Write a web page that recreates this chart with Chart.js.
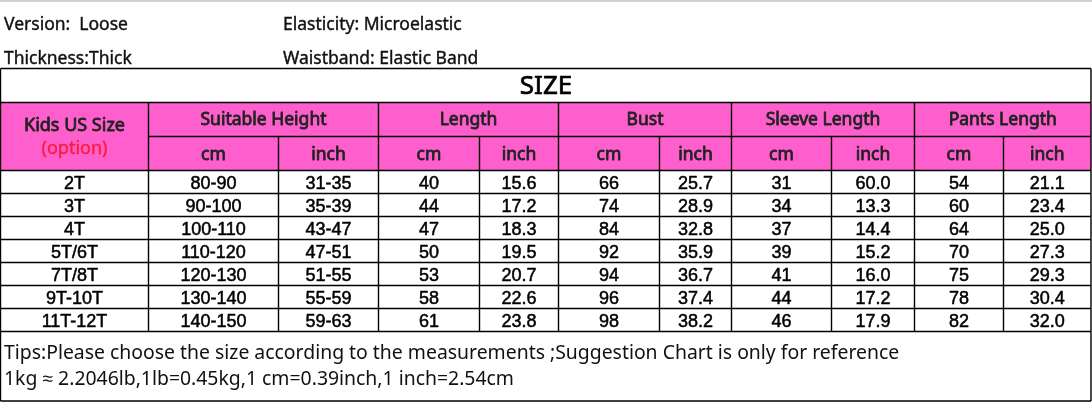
<!DOCTYPE html>
<html>
<head>
<meta charset="utf-8">
<script src="https://cdn.jsdelivr.net/npm/chart.js@4.4.1/dist/chart.umd.min.js"></script>
<style>
  html, body { margin: 0; padding: 0; background: #fff; }
  #sizeChart { display: block; }
</style>
</head>
<body>
<canvas id="sizeChart" width="1092" height="402"></canvas>
<script>
// table content
var sizes = ["2T", "3T", "4T", "5T/6T", "7T/8T", "9T-10T", "11T-12T"];
var heightCm = ["80-90", "90-100", "100-110", "110-120", "120-130", "130-140", "140-150"];
var heightInch = ["31-35", "35-39", "43-47", "47-51", "51-55", "55-59", "59-63"];
var lengthCm = [40, 44, 47, 50, 53, 58, 61];
var lengthInch = [15.6, 17.2, 18.3, 19.5, 20.7, 22.6, 23.8];
var bustCm = [66, 74, 84, 92, 94, 96, 98];
var bustInch = [25.7, 28.9, 32.8, 35.9, 36.7, 37.4, 38.2];
var sleeveCm = [31, 34, 37, 39, 41, 44, 46];
var sleeveInch = [60.0, 13.3, 14.4, 15.2, 16.0, 17.2, 17.9];
var pantsCm = [54, 60, 64, 70, 75, 78, 82];
var pantsInch = [21.1, 23.4, 25.0, 27.3, 29.3, 30.4, 32.0];

var groups = ["Suitable Height", "Length", "Bust", "Sleeve Length", "Pants Length"];
var units = ["cm", "inch"];
var infoLines = [
    ["Version:  Loose", "Elasticity: Microelastic"],
    ["Thickness:Thick", "Waistband: Elastic Band"]
];
var tips = [
    "Tips:Please choose the size according to the measurements ;Suggestion Chart is only for reference",
    "1kg \u2248 2.2046lb,1lb=0.45kg,1 cm=0.39inch,1 inch=2.54cm"
];

// layout (scale units)
var colEdges = [0.5, 148.5, 278.5, 378.5, 479.5, 558.5, 659.5, 731.5, 831.5, 914.5, 1003.5, 1091];
var titleTop = 68.5, headTop = 102.5, headMid = 136.5, headBottom = 170.5, rowH = 23, tableBottom = 401;
var pink = "#ff5fcd";

// fill text and give it a thin outline of the same colour (heavier look)
function heavyText(ctx, txt, x, y, w) {
    ctx.fillText(txt, x, y);
    if (w) {
        ctx.lineWidth = w;
        ctx.strokeStyle = ctx.fillStyle;
        ctx.strokeText(txt, x, y);
    }
}

var tablePlugin = {
    id: 'sizeTable',
    afterDraw: function(chart) {
        var ctx = chart.ctx;
        var x = chart.scales.x, y = chart.scales.y;
        var px = function(v) { return x.getPixelForValue(v); };
        var py = function(v) { return y.getPixelForValue(v); };
        var L = px(colEdges[0]), R = px(colEdges[colEdges.length - 1]);
        var rows = [sizes, heightCm, heightInch, lengthCm, lengthInch, bustCm, bustInch,
                    sleeveCm, sleeveInch, pantsCm, pantsInch];
        var inchCols = [4, 6, 8, 10];

        ctx.save();
        ctx.lineJoin = "round";
        // grey frame line at the top
        ctx.strokeStyle = "#d0d0d0";
        ctx.lineWidth = 2;
        ctx.beginPath(); ctx.moveTo(0, py(1)); ctx.lineTo(chart.width, py(1)); ctx.stroke();

        // info text
        ctx.fillStyle = "#111";
        ctx.font = "17.5px 'Noto Sans', sans-serif";
        ctx.textBaseline = "middle";
        ctx.textAlign = "left";
        infoLines.forEach(function(line, i) {
            var cy = py(i === 0 ? 25 : 59);
            heavyText(ctx, line[0], px(4), cy, 0.4);
            heavyText(ctx, line[1], px(283), cy, 0.4);
        });

        // pink header
        ctx.fillStyle = pink;
        ctx.fillRect(L, py(headTop), R - L, py(headBottom) - py(headTop));

        // grid lines
        ctx.strokeStyle = "#000";
        ctx.lineWidth = 1.4;
        ctx.beginPath();
        [titleTop, headTop, headBottom].forEach(function(v) {
            ctx.moveTo(L, py(v)); ctx.lineTo(R, py(v));
        });
        ctx.moveTo(px(colEdges[1]), py(headMid)); ctx.lineTo(R, py(headMid));
        for (var r = 1; r <= sizes.length; r++) {
            ctx.moveTo(L, py(headBottom + r * rowH)); ctx.lineTo(R, py(headBottom + r * rowH));
        }
        ctx.moveTo(L, py(tableBottom)); ctx.lineTo(R, py(tableBottom));
        ctx.moveTo(L, py(titleTop)); ctx.lineTo(L, py(tableBottom));
        ctx.moveTo(R, py(titleTop)); ctx.lineTo(R, py(tableBottom));
        var dataBottom = headBottom + sizes.length * rowH;
        for (var c = 1; c < colEdges.length - 1; c++) {
            var top = (c % 2 === 1) ? headTop : headMid;
            ctx.moveTo(px(colEdges[c]), py(top)); ctx.lineTo(px(colEdges[c]), py(dataBottom));
        }
        ctx.stroke();

        // title
        ctx.fillStyle = "#000";
        ctx.textAlign = "center";
        ctx.font = "26px 'Noto Sans', sans-serif";
        heavyText(ctx, "SIZE", px(546), py((titleTop + headTop) / 2 + 1), 0.7);

        // header text
        ctx.font = "18px 'Noto Sans', sans-serif";
        ctx.fillStyle = "#222";
        var c0 = (px(colEdges[0]) + px(colEdges[1])) / 2;
        heavyText(ctx, "Kids US Size", c0, py(126), 0.8);
        ctx.fillStyle = "#ff1a3c";
        heavyText(ctx, "(option)", c0, py(149), 0.4);
        ctx.font = "17.5px 'Noto Sans', sans-serif";
        ctx.fillStyle = "#222";
        groups.forEach(function(g, i) {
            var a = px(colEdges[1 + i * 2]), b = px(colEdges[3 + i * 2]);
            heavyText(ctx, g, (a + b) / 2, py((headTop + headMid) / 2 + 1), 0.8);
            units.forEach(function(u, j) {
                var ua = px(colEdges[1 + i * 2 + j]), ub = px(colEdges[2 + i * 2 + j]);
                heavyText(ctx, u, (ua + ub) / 2, py((headMid + headBottom) / 2 + 2), 0.8);
            });
        });

        // body cells
        ctx.fillStyle = "#000";
        ctx.font = "18px 'Liberation Sans', Arial, sans-serif";
        rows.forEach(function(col, ci) {
            var cx = (px(colEdges[ci]) + px(colEdges[ci + 1])) / 2;
            col.forEach(function(v, ri) {
                var txt = inchCols.indexOf(ci) >= 0 ? Number(v).toFixed(1) : String(v);
                heavyText(ctx, txt, cx, py(headBottom + ri * rowH + rowH / 2 + 2), 0.5);
            });
        });

        // tips
        ctx.textAlign = "left";
        ctx.fillStyle = "#111";
        ctx.font = "19.4px 'Noto Sans', sans-serif";
        ctx.fillText(tips[0], px(4), py(353));
        ctx.fillText(tips[1], px(4), py(379));
        ctx.restore();
    }
};

var ctx = document.getElementById("sizeChart");
var sizeChart = new Chart(ctx, {
    type: 'scatter',
    data: { datasets: [{ data: [] }] },
    options: {
        responsive: false,
        animation: false,
        devicePixelRatio: 1,
        layout: { padding: 0 },
        plugins: { legend: { display: false }, tooltip: { enabled: false } },
        scales: {
            x: { type: 'linear', min: 0, max: 1092, display: false },
            y: { type: 'linear', min: 0, max: 402, reverse: true, display: false }
        }
    },
    plugins: [tablePlugin]
});
</script>
</body>
</html>
